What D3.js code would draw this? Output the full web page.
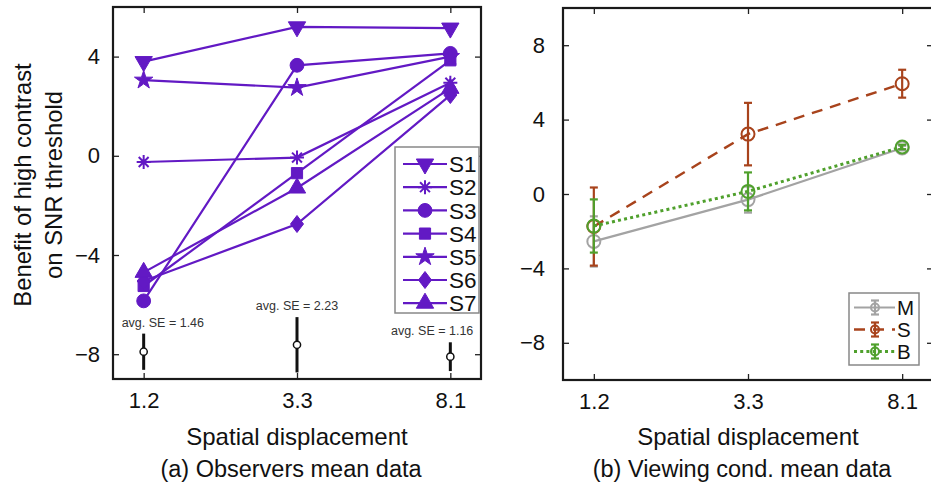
<!DOCTYPE html>
<html>
<head>
<meta charset="utf-8">
<script src="https://cdn.jsdelivr.net/npm/d3@7"></script>
<style>
  body { margin: 0; background: #fff; }
  svg { display: block; font-family: "Liberation Sans", Arial, Helvetica, sans-serif; }
</style>
</head>
<body>
<svg id="chart" width="931" height="487"></svg>
<script>
// categories on the x axis (spatial displacement)
const categories = ['1.2', '3.3', '8.1'];

// (a) observers
const observerNames = ['S1', 'S2', 'S3', 'S4', 'S5', 'S6', 'S7'];
const s1 = [3.8, 5.2, 5.15];
const s2 = [-0.25, -0.07, 2.95];
const s3 = [-5.85, 3.65, 4.13];
const s4 = [-5.25, -0.7, 3.85];
const s5 = [3.05, 2.75, 4.0];
const s6 = [-5.05, -2.75, 2.45];
const s7 = [-4.7, -1.3, 2.72];
const seCenters = [-7.9, -7.62, -8.1];
const seValues = [1.46, 2.23, 1.16];

// (b) viewing conditions
const condNames = ['M', 'S', 'B'];
const mMean = [-2.55, -0.3, 2.47];
const mErr = [1.35, 0.7, 0.12];
const sMean = [-1.75, 3.22, 5.93];
const sErr = [2.1, 1.68, 0.75];
const bMean = [-1.72, 0.14, 2.53];
const bErr = [1.43, 1.02, 0.12];

const leftTicks = [-8, -4, 0, 4];
const rightTicks = [-8, -4, 0, 4, 8];

const purple = '#6219c4';
const svg = d3.select('#chart');

// asterisk glyph (plus + cross)
function asteriskPath(r) {
  const p = d3.path();
  for (let k = 0; k < 4; k++) {
    const a = k * Math.PI / 4;
    p.moveTo(-r * Math.cos(a), -r * Math.sin(a));
    p.lineTo(r * Math.cos(a), r * Math.sin(a));
  }
  return p.toString();
}

// matlab-like diamond, a bit wider than d3's
function diamondPath(w, h) {
  const p = d3.path();
  p.moveTo(0, -h); p.lineTo(w, 0); p.lineTo(0, h); p.lineTo(-w, 0); p.closePath();
  return p.toString();
}

const markers = [
  { d: d3.symbol(d3.symbolTriangle, 130)(), rot: 180, fill: true },
  { d: asteriskPath(7), rot: 0, fill: false },
  { d: d3.symbol(d3.symbolCircle, 150)(), rot: 0, fill: true },
  { d: d3.symbol(d3.symbolSquare, 125)(), rot: 0, fill: true },
  { d: d3.symbol(d3.symbolStar, 105)(), rot: 0, fill: true },
  { d: diamondPath(6.5, 8.5), rot: 0, fill: true },
  { d: d3.symbol(d3.symbolTriangle, 130)(), rot: 0, fill: true },
];

function drawMarker(g, m, x, y) {
  g.append('path')
    .attr('d', m.d)
    .attr('transform', `translate(${x},${y}) rotate(${m.rot})`)
    .attr('fill', m.fill ? purple : 'none')
    .attr('stroke', purple)
    .attr('stroke-width', m.fill ? 1 : 2);
}

function frame(x, y, yTicks, box) {
  const g = svg.append('g');
  g.append('g')
    .attr('transform', `translate(${box.x0},0)`)
    .call(d3.axisLeft(y).tickValues(yTicks).tickSize(-6).tickPadding(box.pad).tickFormat(d3.format('d')))
    .call(a => a.select('.domain').remove())
    .call(a => a.selectAll('text').attr('font-size', 22).attr('fill', '#111').attr('font-family', null));
  g.append('g')
    .attr('transform', `translate(${box.x1},0)`)
    .call(d3.axisRight(y).tickValues(yTicks).tickSize(-6).tickFormat(''))
    .call(a => a.select('.domain').remove());
  g.append('g')
    .attr('transform', `translate(0,${box.y1})`)
    .call(d3.axisBottom(x).tickSize(-6).tickPadding(13))
    .call(a => a.select('.domain').remove())
    .call(a => a.selectAll('text').attr('font-size', 22).attr('fill', '#111').attr('font-family', null).attr('dy', '0.71em'));
  g.append('g')
    .attr('transform', `translate(0,${box.y0})`)
    .call(d3.axisTop(x).tickSize(-6).tickFormat(''))
    .call(a => a.select('.domain').remove());
  g.selectAll('.tick line').attr('stroke', '#222').attr('stroke-width', 1.3);
  g.append('rect')
    .attr('x', box.x0).attr('y', box.y0)
    .attr('width', box.x1 - box.x0).attr('height', box.y1 - box.y0)
    .attr('fill', 'none').attr('stroke', '#1a1a1a').attr('stroke-width', 2.2);
  return g;
}

// ---------- (a) ----------
const boxA = { x0: 113, x1: 481, y0: 7, y1: 379, pad: 13 };
const xA = d3.scalePoint().domain(categories).range([boxA.x0, boxA.x1]).padding(0.2);
const yA = d3.scaleLinear().domain([-9, 6]).range([boxA.y1, boxA.y0]);
frame(xA, yA, leftTicks, boxA);

const observers = [s1, s2, s3, s4, s5, s6, s7];
const lineA = d3.line().x((d, i) => xA(categories[i])).y(d => yA(d));
const gA = svg.append('g');
observers.forEach(vals => {
  gA.append('path').attr('d', lineA(vals))
    .attr('fill', 'none').attr('stroke', purple).attr('stroke-width', 2.2);
});
observers.forEach((vals, k) => {
  vals.forEach((v, i) => drawMarker(gA, markers[k], xA(categories[i]), yA(v)));
});

// average SE bars
const seLabelDx = [-22, 0, 23];
const seAnchor = ['start', 'middle', 'end'];
seCenters.forEach((c, i) => {
  const cx = xA(categories[i]);
  const top = yA(c + seValues[i] / 2);
  gA.append('line')
    .attr('x1', cx).attr('x2', cx)
    .attr('y1', top).attr('y2', yA(c - seValues[i] / 2))
    .attr('stroke', '#111').attr('stroke-width', 3);
  gA.append('circle').attr('cx', cx).attr('cy', yA(c)).attr('r', 3.6)
    .attr('fill', '#fff').attr('stroke', '#111').attr('stroke-width', 1.5);
  gA.append('text')
    .attr('x', cx + seLabelDx[i]).attr('y', top - 7)
    .attr('text-anchor', seAnchor[i])
    .attr('font-size', 12.5).attr('fill', '#333')
    .text(`avg. SE = ${seValues[i].toFixed(2)}`);
});

// legend (a)
const legA = svg.append('g');
legA.append('rect').attr('x', 395).attr('y', 147).attr('width', 84).attr('height', 166)
  .attr('fill', '#fff').attr('stroke', '#888').attr('stroke-width', 1.5);
observerNames.forEach((name, k) => {
  const ly = 164 + k * 23.2;
  legA.append('line').attr('x1', 403).attr('x2', 447).attr('y1', ly).attr('y2', ly)
    .attr('stroke', purple).attr('stroke-width', 2.2);
  drawMarker(legA, markers[k], 425, ly);
  legA.append('text').attr('x', 449).attr('y', ly).attr('dy', '0.36em')
    .attr('font-size', 22.5).attr('fill', '#111').text(name);
});

// y title (a)
const yTitle = svg.append('g').attr('transform', 'translate(0,185)');
yTitle.append('text').attr('transform', 'translate(31,0) rotate(-90)')
  .attr('text-anchor', 'middle').attr('font-size', 23.8).attr('fill', '#111')
  .text('Benefit of high contrast');
yTitle.append('text').attr('transform', 'translate(62,0) rotate(-90)')
  .attr('text-anchor', 'middle').attr('font-size', 23.8).attr('fill', '#111')
  .text('on SNR threshold');

// ---------- (b) ----------
const boxB = { x0: 563, x1: 933, y0: 8, y1: 380, pad: 18 };
const xB = d3.scalePoint().domain(categories).range([boxB.x0, boxB.x1]).padding(0.2);
const yB = d3.scaleLinear().domain([-10, 10]).range([boxB.y1, boxB.y0]);
frame(xB, yB, rightTicks, boxB);

const conds = [
  { name: 'M', mean: mMean, err: mErr, color: '#a3a3a3', dash: null, width: 2.2 },
  { name: 'S', mean: sMean, err: sErr, color: '#a8431c', dash: '11,8', width: 2.4 },
  { name: 'B', mean: bMean, err: bErr, color: '#4fa02c', dash: '3,3.2', width: 3 },
];
const lineB = d3.line().x((d, i) => xB(categories[i])).y(d => yB(d));
const gB = svg.append('g');

function errorBar(g, cx, yTop, yBot, color) {
  g.append('line').attr('x1', cx).attr('x2', cx).attr('y1', yTop).attr('y2', yBot)
    .attr('stroke', color).attr('stroke-width', 2.2);
  [yTop, yBot].forEach(yy => g.append('line')
    .attr('x1', cx - 4).attr('x2', cx + 4).attr('y1', yy).attr('y2', yy)
    .attr('stroke', color).attr('stroke-width', 2.2));
}

conds.forEach(c => {
  gB.append('path').attr('d', lineB(c.mean))
    .attr('fill', 'none').attr('stroke', c.color).attr('stroke-width', c.width)
    .attr('stroke-dasharray', c.dash);
  c.mean.forEach((v, i) => {
    const cx = xB(categories[i]);
    errorBar(gB, cx, yB(v + c.err[i]), yB(v - c.err[i]), c.color);
    gB.append('circle').attr('cx', cx).attr('cy', yB(v)).attr('r', 6.5)
      .attr('fill', 'none').attr('stroke', c.color).attr('stroke-width', 2);
  });
});

// legend (b)
const legB = svg.append('g');
legB.append('rect').attr('x', 849).attr('y', 293).attr('width', 70).attr('height', 72)
  .attr('fill', '#fff').attr('stroke', '#888').attr('stroke-width', 1.5);
conds.forEach((c, k) => {
  const ly = 307.5 + k * 22;
  legB.append('line').attr('x1', 854).attr('x2', 895).attr('y1', ly).attr('y2', ly)
    .attr('stroke', c.color).attr('stroke-width', c.width).attr('stroke-dasharray', c.dash);
  errorBar(legB, 875, ly - 7, ly + 7, c.color);
  legB.append('circle').attr('cx', 875).attr('cy', ly).attr('r', 4)
    .attr('fill', 'none').attr('stroke', c.color).attr('stroke-width', 2);
  legB.append('text').attr('x', 897).attr('y', ly).attr('dy', '0.36em')
    .attr('font-size', 20.5).attr('fill', '#111').text(condNames[k]);
});

// x titles and captions
[[xA, '(a) Observers mean data'], [xB, '(b) Viewing cond. mean data']].forEach(([x, cap]) => {
  const cx = x('3.3');
  svg.append('text').attr('x', cx).attr('y', 445).attr('text-anchor', 'middle')
    .attr('font-size', 24).attr('fill', '#111').text('Spatial displacement');
  svg.append('text').attr('x', cx - 6).attr('y', 477).attr('text-anchor', 'middle')
    .attr('font-size', 23.5).attr('fill', '#111').text(cap);
});
</script>
</body>
</html>
